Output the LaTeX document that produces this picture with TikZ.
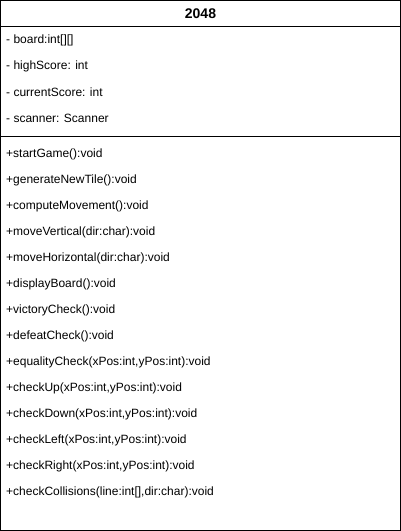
\documentclass[tikz,border=0pt]{standalone}
\usepackage{fontspec}
\setmainfont{Liberation Sans}
\usetikzlibrary{positioning}

\begin{document}
\begin{tikzpicture}[x=1pt,y=-1pt,font=\fontsize{12}{14}\selectfont]
% Two styles: class members and box lines
\tikzstyle{member}=[anchor=west,inner sep=0pt];
\tikzstyle{box line}=[draw=black,line width=1pt];
\useasboundingbox (0,0) rectangle (401,531);
% The class box
\coordinate(nw) at (0.5,0.5);
\coordinate(se) at (400.5,530.5);
\draw[box line](nw) rectangle (se);
\node(title)[font=\fontsize{14}{16}\selectfont\bfseries] at (200.5,14){2048};
% compartment lines
\coordinate(head l) at (0.5,26.5);
\coordinate(head r) at (400.5,26.5);
\coordinate(attr l) at (0.5,136.5);
\coordinate(attr r) at (400.5,136.5);
\draw[box line](head l)--(head r);
\draw[box line](attr l)--(attr r);
% attributes
\foreach \t [count=\i] in {{- board:int[][]},{- highScore: int},{- currentScore: int},{- scanner: Scanner}}
\node(attr\i)[member] at (6,14.5+26*\i){\t};
% methods
\foreach \t [count=\i] in {{+startGame():void},{+generateNewTile():void},{+computeMovement():void},
  {+moveVertical(dir:char):void},{+moveHorizontal(dir:char):void},{+displayBoard():void},
  {+victoryCheck():void},{+defeatCheck():void},{+equalityCheck(xPos:int,yPos:int):void},
  {+checkUp(xPos:int,yPos:int):void},{+checkDown(xPos:int,yPos:int):void},
  {+checkLeft(xPos:int,yPos:int):void},{+checkRight(xPos:int,yPos:int):void},
  {+checkCollisions(line:int[],dir:char):void}}
\node(meth\i)[member] at (6,128.5+26*\i){\t};
\end{tikzpicture}
\end{document}
